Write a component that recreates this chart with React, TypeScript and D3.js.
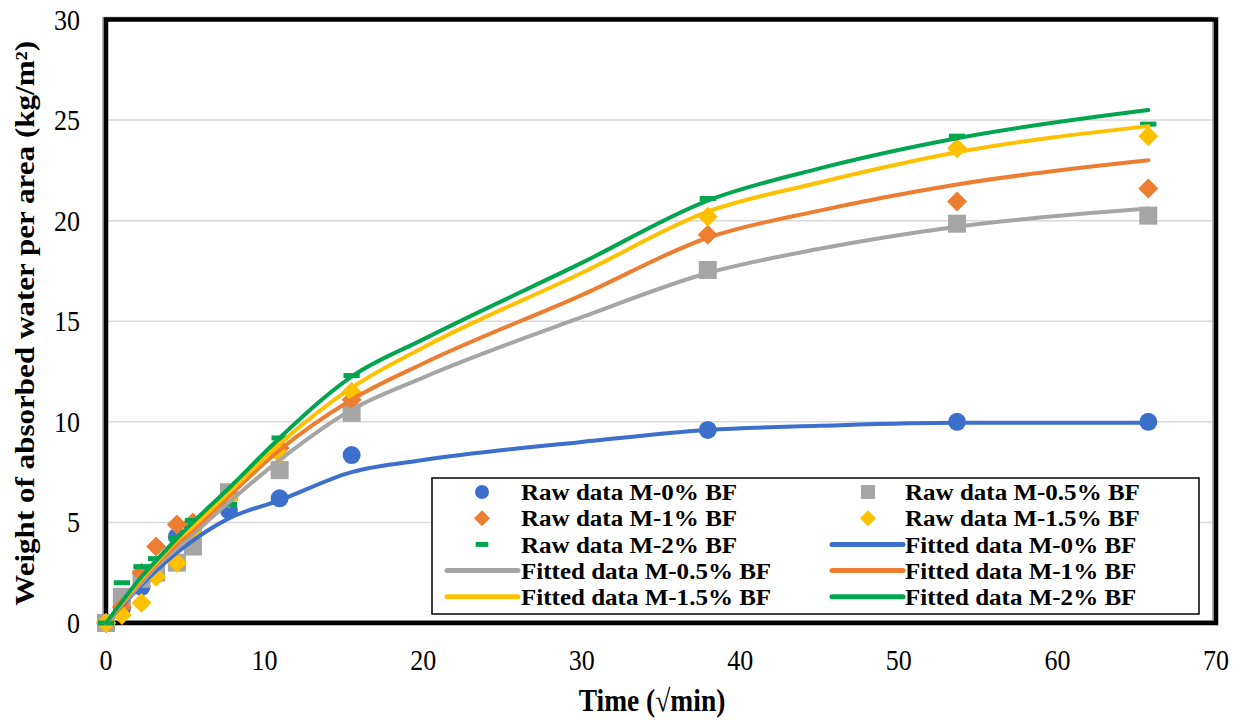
import * as d3 from "d3";

// --- datos crudos (x = raíz de minutos) ---
const rawX = [0, 1, 2.24, 3.16, 4.47, 5.48, 7.75, 10.95, 15.49, 37.95, 53.67, 65.73];
const rawM0 = [0, 0.7, 1.8, 2.6, 4.3, 4.7, 5.6, 6.2, 8.35, 9.6, 10.0, 10.0];
const rawM05 = [0, 1.3, 2.2, 2.5, 3.0, 3.8, 6.5, 7.6, 10.45, 17.55, 19.85, 20.25];
const rawM1 = [0, 0.8, 2.5, 3.8, 4.9, 5.0, 6.3, 8.7, 11.1, 19.3, 20.95, 21.6];
const rawM15 = [0, 0.4, 1.0, 2.3, 3.0, 4.5, 6.2, 8.4, 11.5, 20.2, 23.6, 24.2];
const rawM2 = [0, 2.0, 2.8, 3.2, 4.2, 5.1, 5.9, 9.2, 12.3, 21.1, 24.2, 24.8];

// --- curvas ajustadas ---
const fitX = [0, 1, 2.24, 3.16, 4.47, 5.48, 7.75, 10.95, 15.49, 20, 30, 37.95, 45, 53.67, 65.73];
const fitM0 = [0, 0.85, 1.9, 2.6, 3.5, 4.1, 5.2, 6.1, 7.5, 8.1, 9.0, 9.6, 9.8, 9.95, 9.95];
const fitM05 = [0, 0.9, 2.0, 2.8, 3.7, 4.4, 6.0, 8.1, 10.6, 12.2, 15.2, 17.4, 18.6, 19.7, 20.6];
const fitM1 = [0, 0.95, 2.1, 2.9, 3.9, 4.6, 6.3, 8.6, 11.1, 12.9, 16.3, 19.15, 20.5, 21.8, 23.0];
const fitM15 = [0, 1.0, 2.2, 3.0, 4.1, 4.8, 6.5, 8.9, 11.7, 13.7, 17.4, 20.45, 21.9, 23.4, 24.7];
const fitM2 = [0, 1.05, 2.3, 3.1, 4.2, 5.0, 6.7, 9.2, 12.25, 14.1, 17.9, 21.0, 22.6, 24.1, 25.5];

const xTicks = [0, 10, 20, 30, 40, 50, 60, 70];
const yTicks = [0, 5, 10, 15, 20, 25, 30];

const BLUE = "#3d6fcc";
const GRAY = "#a5a5a5";
const ORANGE = "#ed7d31";
const YELLOW = "#ffc000";
const GREEN = "#00a550";

type Shape = "circle" | "square" | "diamond" | "dash";

const rawSeries = [
  { name: "Raw data M-0% BF", values: rawM0, color: BLUE, shape: "circle" as Shape },
  { name: "Raw data M-0.5% BF", values: rawM05, color: GRAY, shape: "square" as Shape },
  { name: "Raw data M-1% BF", values: rawM1, color: ORANGE, shape: "diamond" as Shape },
  { name: "Raw data M-1.5% BF", values: rawM15, color: YELLOW, shape: "diamond" as Shape },
  { name: "Raw data M-2% BF", values: rawM2, color: GREEN, shape: "dash" as Shape },
];

const fitSeries = [
  { name: "Fitted data M-0% BF", values: fitM0, color: BLUE },
  { name: "Fitted data M-0.5% BF", values: fitM05, color: GRAY },
  { name: "Fitted data M-1% BF", values: fitM1, color: ORANGE },
  { name: "Fitted data M-1.5% BF", values: fitM15, color: YELLOW },
  { name: "Fitted data M-2% BF", values: fitM2, color: GREEN },
];

const FONT = "'Liberation Serif', 'Times New Roman', serif";
const STRETCH = 1.13; // el texto del original está algo estirado en vertical

function Marker({ shape, cx, cy, color, size }: { shape: Shape; cx: number; cy: number; color: string; size: number }) {
  if (shape === "circle") return <circle cx={cx} cy={cy} r={size / 2} fill={color} />;
  if (shape === "square")
    return <rect x={cx - size / 2} y={cy - size / 2} width={size} height={size} fill={color} />;
  if (shape === "diamond") {
    const h = size / 2 + 1;
    return <path d={`M${cx},${cy - h}L${cx + h},${cy}L${cx},${cy + h}L${cx - h},${cy}Z`} fill={color} />;
  }
  return <rect x={cx - size * 0.45} y={cy - 2.5} width={size * 0.9} height={5} fill={color} />;
}

function Label({ x, y, anchor = "start", size, bold = false, rotate = false, sx = 1, sy = STRETCH, children }: {
  x: number; y: number; anchor?: string; size: number; bold?: boolean; rotate?: boolean; sx?: number; sy?: number; children: React.ReactNode;
}) {
  return (
    <text
      transform={`translate(${x},${y}) scale(${sx},${sy})${rotate ? " rotate(-90)" : ""}`}
      textAnchor={anchor}
      dominantBaseline="central"
      fontFamily={FONT}
      fontWeight={bold ? "bold" : "normal"}
      fontSize={size}
    >
      {children}
    </text>
  );
}

export default function App() {
  const width = 1243;
  const height = 722;

  const x = d3.scaleLinear().domain([0, 70]).range([106, 1216]);
  const y = d3.scaleLinear().domain([0, 30]).range([623, 19.5]);

  const line = d3
    .line<number>()
    .x((_, i) => x(fitX[i]))
    .y((d) => y(d))
    .curve(d3.curveMonotoneX);

  const [x0, x1] = x.range();
  const [y0, y1] = y.range();

  // leyenda: 5 filas x 2 columnas
  const legendItems = [
    ...rawSeries.map((s) => ({ kind: "raw", ...s })),
    ...fitSeries.map((s) => ({ kind: "fit", shape: "circle" as Shape, ...s })),
  ];
  const legendCols = [{ marker: 482, lineX: [447, 518], text: 521 }, { marker: 868, lineX: [832, 903], text: 905 }];
  const legendTop = 492;
  const legendRow = 26.2;

  return (
    <svg width={width} height={height} style={{ position: "absolute", left: 0, top: 0, background: "#fff" }}>
      {/* grilla */}
      {yTicks.slice(1, -1).map((t) => (
        <line key={t} x1={x0} x2={x1} y1={y(t)} y2={y(t)} stroke="#d9d9d9" strokeWidth={1.5} />
      ))}

      {/* marco con sombra */}
      <rect x={x0 - 3} y={y1 - 2} width={x1 - x0} height={y0 - y1} fill="none" stroke="#9a9a9a" strokeWidth={1.5} />
      <rect x={x0} y={y1} width={x1 - x0} height={y0 - y1} fill="none" stroke="#000" strokeWidth={4.5} />

      {/* ticks */}
      {yTicks.map((t) => (
        <Label key={t} x={80} y={y(t)} anchor="end" size={26}>{t}</Label>
      ))}
      {xTicks.map((t) => (
        <Label key={t} x={x(t)} y={660} anchor="middle" size={26}>{t}</Label>
      ))}

      {/* títulos */}
      <Label x={25} y={(y0 + y1) / 2 + 2} anchor="middle" size={27.5} bold rotate>
        Weight of absorbed water per area (kg/m²)
      </Label>
      <Label x={652} y={700} anchor="middle" size={27.5} bold>
        Time (√min)
      </Label>

      {/* puntos crudos */}
      {rawSeries.map((s) => (
        <g key={s.name}>
          {s.values.map((v, i) => (
            <Marker key={i} shape={s.shape} cx={x(rawX[i])} cy={y(v)} color={s.color} size={18} />
          ))}
        </g>
      ))}

      {/* curvas ajustadas */}
      {fitSeries.map((s) => (
        <path key={s.name} d={line(s.values) || ""} fill="none" stroke={s.color} strokeWidth={4} strokeLinecap="round" />
      ))}

      {/* leyenda */}
      <rect x={432} y={478} width={767} height={136} fill="#fff" stroke="#000" strokeWidth={1.5} />
      {legendItems.map((it, i) => {
        const col = legendCols[i % 2];
        const cy = legendTop + Math.floor(i / 2) * legendRow;
        return (
          <g key={it.name}>
            {it.kind === "raw" ? (
              <Marker shape={it.shape} cx={col.marker} cy={cy} color={it.color} size={14} />
            ) : (
              <line x1={col.lineX[0]} x2={col.lineX[1]} y1={cy} y2={cy} stroke={it.color} strokeWidth={5} strokeLinecap="round" />
            )}
            <Label x={col.text} y={cy} size={23.5} sx={1.065} sy={1} bold>{it.name}</Label>
          </g>
        );
      })}
    </svg>
  );
}
